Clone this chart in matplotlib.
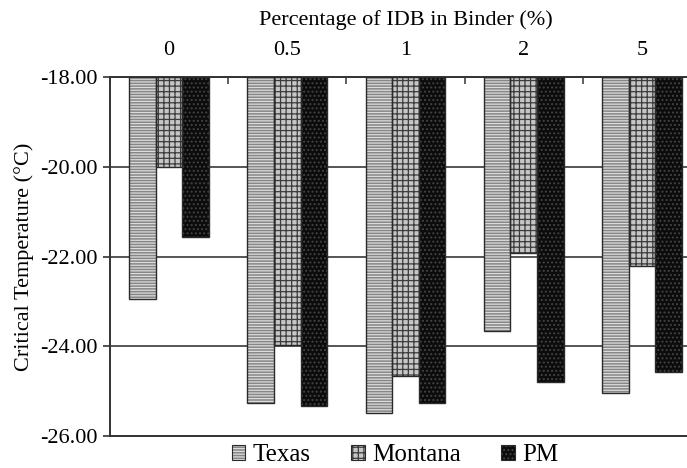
import numpy as np
import matplotlib
matplotlib.use("Agg")
import matplotlib.pyplot as plt
from matplotlib.patches import Patch
from matplotlib.ticker import FixedLocator
from matplotlib.legend_handler import HandlerTuple

categories = ["0", "0.5", "1", "2", "5"]
texas = [-22.94, -25.26, -25.48, -23.65, -25.04]
montana = [-20.00, -23.97, -24.66, -21.93, -22.22]
pm = [-21.56, -25.33, -25.27, -24.79, -24.57]
series_names = ["Texas", "Montana", "PM"]
yticks = [-26.0, -24.0, -22.0, -20.0, -18.0]

plt.rcParams["font.family"] = ["Liberation Serif", "DejaVu Serif"]
plt.rcParams["hatch.linewidth"] = 0.9

fig = plt.figure(figsize=(6.87, 4.68), dpi=100)
ax = fig.add_axes([110 / 687, 1 - 436 / 468, 591 / 687, 359 / 468])

base = -18.0
x = np.arange(len(categories))
width = 0.225
styles = [
    dict(face="#868686", hatch="------", hcol="#dcdcdc"),
    dict(face="#c6c6c6", hatch="+++", hcol="#3c3c3c"),
    dict(face="#0c0c0c", hatch="....", hcol="#444444"),
]
series = [texas, montana, pm]
for i, (vals, st) in enumerate(zip(series, styles)):
    pos = x + (i - 1) * width
    h = np.array(vals) - base
    ax.bar(pos, h, width, bottom=base, color=st["face"], hatch=st["hatch"],
           edgecolor=st["hcol"], linewidth=0, zorder=2)
    ax.bar(pos, h, width, bottom=base, fill=False, edgecolor="#2a2a2a",
           linewidth=1.0, zorder=3)

ax.set_xlim(-0.5, len(categories) - 0.5)
ax.set_ylim(-26, -18)
ax.set_yticks(yticks)
ax.set_yticklabels([f"{v:.2f}" for v in yticks], fontsize=16)
ax.yaxis.grid(True, color="#555555", linewidth=1.4, zorder=0)
ax.set_axisbelow(True)

ax.xaxis.tick_top()
ax.xaxis.set_label_position("top")
ax.set_xticks(x)
ax.set_xticklabels(categories, fontsize=16)
ax.tick_params(axis="x", which="major", length=0, pad=12)
ax.xaxis.set_minor_locator(FixedLocator(np.arange(-0.5, len(categories), 1.0)))
ax.tick_params(axis="x", which="minor", direction="in", length=5, width=1.2,
               color="#444444", top=True, bottom=False)
ax.tick_params(axis="y", length=5, width=1.2, color="#333333", pad=4)
ax.set_xlabel("Percentage of IDB in Binder (%)", fontsize=16, labelpad=12)
ax.set_ylabel("Critical Temperature (°C)", fontsize=16, labelpad=4)

for side in ["top", "bottom", "left"]:
    ax.spines[side].set_color("#333333")
    ax.spines[side].set_linewidth(1.4)
ax.spines["right"].set_visible(False)

handles = [(Patch(facecolor=st["face"], hatch=st["hatch"], edgecolor=st["hcol"], linewidth=0),
            Patch(fill=False, edgecolor="#2a2a2a", linewidth=0.8)) for st in styles]
leg = fig.legend(handles, series_names, loc="center", bbox_to_anchor=(395 / 687, 1 - 455 / 468),
                 ncol=3, frameon=False, fontsize=18, handlelength=0.55, handleheight=0.55,
                 handletextpad=0.3, columnspacing=1.6, borderpad=0,
                 handler_map={tuple: HandlerTuple(ndivide=1, pad=0)})

fig.savefig("out.png", dpi=100)
